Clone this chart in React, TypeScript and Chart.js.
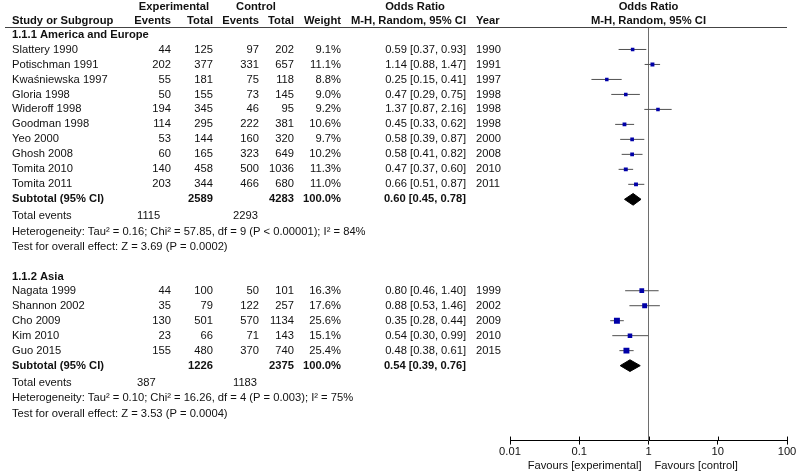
import { useEffect, useRef } from 'react';
import { Chart, registerables } from 'chart.js';

Chart.register(...registerables);

// ---------- DATA ----------
const groupTitles = ['1.1.1 America and Europe', '1.1.2 Asia'];

const studies1 = ['Slattery 1990', 'Potischman 1991', 'Kwaśniewska 1997', 'Gloria 1998', 'Wideroff 1998', 'Goodman 1998', 'Yeo 2000', 'Ghosh 2008', 'Tomita 2010', 'Tomita 2011'];
const expEvents1 = [44, 202, 55, 50, 194, 114, 53, 60, 140, 203];
const expTotal1 = [125, 377, 181, 155, 345, 295, 144, 165, 458, 344];
const ctlEvents1 = [97, 331, 75, 73, 46, 222, 160, 323, 500, 466];
const ctlTotal1 = [202, 657, 118, 145, 95, 381, 320, 649, 1036, 680];
const weight1 = [9.1, 11.1, 8.8, 9.0, 9.2, 10.6, 9.7, 10.2, 11.3, 11.0];
const or1 = [0.59, 1.14, 0.25, 0.47, 1.37, 0.45, 0.58, 0.58, 0.47, 0.66];
const lo1 = [0.37, 0.88, 0.15, 0.29, 0.87, 0.33, 0.39, 0.41, 0.37, 0.51];
const hi1 = [0.93, 1.47, 0.41, 0.75, 2.16, 0.62, 0.87, 0.82, 0.60, 0.87];
const years1 = [1990, 1991, 1997, 1998, 1998, 1998, 2000, 2008, 2010, 2011];

const studies2 = ['Nagata 1999', 'Shannon 2002', 'Cho 2009', 'Kim 2010', 'Guo 2015'];
const expEvents2 = [44, 35, 130, 23, 155];
const expTotal2 = [100, 79, 501, 66, 480];
const ctlEvents2 = [50, 122, 570, 71, 370];
const ctlTotal2 = [101, 257, 1134, 143, 740];
const weight2 = [16.3, 17.6, 25.6, 15.1, 25.4];
const or2 = [0.80, 0.88, 0.35, 0.54, 0.48];
const lo2 = [0.46, 0.53, 0.28, 0.30, 0.38];
const hi2 = [1.40, 1.46, 0.44, 0.99, 0.61];
const years2 = [1999, 2002, 2009, 2010, 2015];

const subExpTotal = [2589, 1226];
const subCtlTotal = [4283, 2375];
const subOR = [0.60, 0.54];
const subLo = [0.45, 0.39];
const subHi = [0.78, 0.76];
const totExpEvents = [1115, 387];
const totCtlEvents = [2293, 1183];
const heterogeneity = [
  'Heterogeneity: Tau² = 0.16; Chi² = 57.85, df = 9 (P < 0.00001); I² = 84%',
  'Heterogeneity: Tau² = 0.10; Chi² = 16.26, df = 4 (P = 0.003); I² = 75%',
];
const overallEffect = [
  'Test for overall effect: Z = 3.69 (P = 0.0002)',
  'Test for overall effect: Z = 3.53 (P = 0.0004)',
];

const xTickValues = [0.01, 0.1, 1, 10, 100];
const xTickLabels = ['0.01', '0.1', '1', '10', '100'];
const favoursLeft = 'Favours [experimental]';
const favoursRight = 'Favours [control]';

// ---------- LAYOUT ----------
const W = 800;
const H = 474;
const FONT = '"Liberation Sans", Arial, Helvetica, sans-serif';
const FS = 11.2;
const Y_MAX = 27.6;

type Group = {
  title: string; names: string[]; ee: number[]; et: number[]; ce: number[]; ct: number[];
  w: number[]; or: number[]; lo: number[]; hi: number[]; yr: number[];
  head: number; start: number; sub: number; tot: number; het: number; test: number; gi: number;
};

const groups: Group[] = [
  { title: groupTitles[0], names: studies1, ee: expEvents1, et: expTotal1, ce: ctlEvents1, ct: ctlTotal1, w: weight1, or: or1, lo: lo1, hi: hi1, yr: years1,
    head: 0.55, start: 1.5, sub: 11.5, tot: 12.62, het: 13.67, test: 14.67, gi: 0 },
  { title: groupTitles[1], names: studies2, ee: expEvents2, et: expTotal2, ce: ctlEvents2, ct: ctlTotal2, w: weight2, or: or2, lo: lo2, hi: hi2, yr: years2,
    head: 16.65, start: 17.6, sub: 22.6, tot: 23.72, het: 24.77, test: 25.82, gi: 1 },
];

const col = {
  study: 12, eeR: 171, etR: 213, ceR: 259, ctR: 294, wR: 341, orR: 466, yearL: 476,
  totEeL: 137, totCeL: 233,
};

const fmt2 = (v: number) => v.toFixed(2);
const ciText = (o: number, l: number, h: number) => `${fmt2(o)} [${fmt2(l)}, ${fmt2(h)}]`;

export default function App() {
  const ref = useRef<HTMLCanvasElement | null>(null);

  useEffect(() => {
    document.body.style.margin = '0';
    const canvas = ref.current;
    if (!canvas) return;

    const datasets: any[] = [];
    // reference line at OR = 1
    datasets.push({
      data: [{ x: 1, y: 0 }, { x: 1, y: Y_MAX }], showLine: true, borderColor: '#6e6e6e', borderWidth: 1,
      pointRadius: 0, fill: false, order: 5,
    });
    groups.forEach((g) => {
      g.names.forEach((_, i) => {
        const y = g.start + i;
        datasets.push({
          data: [{ x: g.lo[i], y }, { x: g.hi[i], y }], showLine: true, borderColor: '#505050', borderWidth: 1,
          pointRadius: 0, fill: false, order: 4,
        });
      });
      datasets.push({
        data: g.names.map((_, i) => ({ x: g.or[i], y: g.start + i })),
        pointStyle: 'rect',
        pointRadius: g.w.map((w) => 0.83 * Math.sqrt(w)),
        backgroundColor: '#0000a8', borderWidth: 0, showLine: false, order: 1,
      });
      const d = 0.39;
      datasets.push({
        data: [
          { x: subLo[g.gi], y: g.sub }, { x: subOR[g.gi], y: g.sub - d }, { x: subHi[g.gi], y: g.sub },
          { x: subOR[g.gi], y: g.sub + d }, { x: subLo[g.gi], y: g.sub },
        ],
        showLine: true, fill: 'shape', backgroundColor: '#000', borderColor: '#000', borderWidth: 1,
        pointRadius: 0, tension: 0, order: 0,
      });
    });

    const tablePlugin = {
      id: 'forestTable',
      afterDraw(chart: any) {
        const ctx: CanvasRenderingContext2D = chart.ctx;
        const ys = chart.scales.y;
        const xs = chart.scales.x;
        const area = chart.chartArea;
        const x1 = xs.getPixelForValue(1);
        const t = (s: string, x: number, y: number, align: CanvasTextAlign, bold = false) => {
          ctx.font = `${bold ? 'bold ' : ''}${FS}px ${FONT}`;
          ctx.textAlign = align;
          ctx.textBaseline = 'middle';
          ctx.fillStyle = '#111';
          ctx.fillText(s, x, y);
        };
        ctx.save();
        // header
        const h1 = 7, h2 = 20.5;
        t('Experimental', 174, h1, 'center', true);
        t('Control', 256, h1, 'center', true);
        t('Odds Ratio', 415, h1, 'center', true);
        t('Odds Ratio', x1, h1, 'center', true);
        t('Study or Subgroup', col.study, h2, 'left', true);
        t('Events', col.eeR, h2, 'right', true);
        t('Total', col.etR, h2, 'right', true);
        t('Events', col.ceR, h2, 'right', true);
        t('Total', col.ctR, h2, 'right', true);
        t('Weight', col.wR, h2, 'right', true);
        t('M-H, Random, 95% CI', col.orR, h2, 'right', true);
        t('Year', col.yearL, h2, 'left', true);
        t('M-H, Random, 95% CI', x1, h2, 'center', true);
        // header rule
        ctx.strokeStyle = '#444';
        ctx.lineWidth = 1;
        ctx.beginPath();
        ctx.moveTo(5, area.top + 0.5);
        ctx.lineTo(area.right, area.top + 0.5);
        ctx.stroke();

        groups.forEach((g) => {
          t(g.title, col.study, ys.getPixelForValue(g.head), 'left', true);
          g.names.forEach((n, i) => {
            const y = ys.getPixelForValue(g.start + i);
            t(n, col.study, y, 'left');
            t(String(g.ee[i]), col.eeR, y, 'right');
            t(String(g.et[i]), col.etR, y, 'right');
            t(String(g.ce[i]), col.ceR, y, 'right');
            t(String(g.ct[i]), col.ctR, y, 'right');
            t(`${g.w[i].toFixed(1)}%`, col.wR, y, 'right');
            t(ciText(g.or[i], g.lo[i], g.hi[i]), col.orR, y, 'right');
            t(String(g.yr[i]), col.yearL, y, 'left');
          });
          const ys2 = ys.getPixelForValue(g.sub);
          t('Subtotal (95% CI)', col.study, ys2, 'left', true);
          t(String(subExpTotal[g.gi]), col.etR, ys2, 'right', true);
          t(String(subCtlTotal[g.gi]), col.ctR, ys2, 'right', true);
          t('100.0%', col.wR, ys2, 'right', true);
          t(ciText(subOR[g.gi], subLo[g.gi], subHi[g.gi]), col.orR, ys2, 'right', true);
          const yt = ys.getPixelForValue(g.tot);
          t('Total events', col.study, yt, 'left');
          t(String(totExpEvents[g.gi]), col.totEeL, yt, 'left');
          t(String(totCtlEvents[g.gi]), col.totCeL, yt, 'left');
          t(heterogeneity[g.gi], col.study, ys.getPixelForValue(g.het), 'left');
          t(overallEffect[g.gi], col.study, ys.getPixelForValue(g.test), 'left');
        });

        // upward tick extensions on the x axis
        ctx.strokeStyle = '#000';
        ctx.lineWidth = 1;
        xTickValues.forEach((v) => {
          const px = Math.round(xs.getPixelForValue(v)) + 0.5;
          ctx.beginPath();
          ctx.moveTo(px, area.bottom - 4);
          ctx.lineTo(px, area.bottom);
          ctx.stroke();
        });
        // favours labels
        const fy = 466;
        t(favoursLeft, x1 - 7, fy, 'right');
        t(favoursRight, x1 + 6, fy, 'left');
        ctx.restore();
      },
    };

    const chart = new Chart(canvas, {
      type: 'scatter',
      data: { datasets },
      plugins: [tablePlugin],
      options: {
        responsive: false,
        animation: false,
        devicePixelRatio: 1,
        events: [],
        layout: { padding: { left: 510, right: 13, top: 27, bottom: 14 } },
        plugins: { legend: { display: false }, tooltip: { enabled: false } },
        scales: {
          x: {
            type: 'logarithmic',
            min: 0.01,
            max: 100,
            position: 'bottom',
            afterBuildTicks: (axis: any) => {
              axis.ticks = xTickValues.map((v) => ({ value: v, major: true }));
            },
            grid: { display: true, drawOnChartArea: false, drawTicks: true, tickLength: 4, color: '#000', lineWidth: 1 },
            border: { display: true, color: '#000', width: 1 },
            ticks: {
              autoSkip: false,
              maxRotation: 0,
              padding: 1,
              color: '#111',
              font: { family: FONT, size: FS },
              callback: (_v: any, i: number) => xTickLabels[i],
            },
          },
          y: {
            type: 'linear',
            min: 0,
            max: Y_MAX,
            reverse: true,
            display: false,
          },
        },
      } as any,
    });
    return () => chart.destroy();
  }, []);

  return <canvas ref={ref} width={W} height={H} style={{ display: 'block', width: W, height: H }} />;
}
